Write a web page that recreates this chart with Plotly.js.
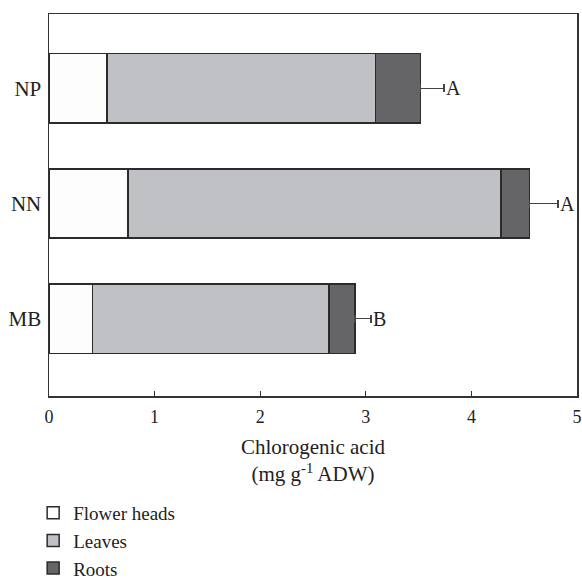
<!DOCTYPE html>
<html>
<head>
<meta charset="utf-8">
<script src="https://cdn.plot.ly/plotly-3.0.1.min.js"></script>
<style>html,body{margin:0;padding:0;background:#fff;}#chart{width:582px;height:581px;}</style>
</head>
<body>
<div id="chart"></div>
<script>
const categories = ['MB', 'NN', 'NP'];
const flowerHeads = [0.41, 0.75, 0.55];
const leaves = [2.24, 3.53, 2.54];
const roots = [0.25, 0.27, 0.43];
const errorPlus = [0.15, 0.27, 0.22];
const letters = ['B', 'A', 'A'];
const xTicks = [0, 1, 2, 3, 4, 5];

const FONT = 'Liberation Serif, Times New Roman, serif';
const outline = {color: '#2b2b2b', width: 1.5};

const totals = categories.map((c, i) => flowerHeads[i] + leaves[i] + roots[i]);

const traces = [
  {type: 'bar', orientation: 'h', name: 'Flower heads', y: categories, x: flowerHeads,
   marker: {color: '#fdfdfd', line: outline}},
  {type: 'bar', orientation: 'h', name: 'Leaves', y: categories, x: leaves,
   marker: {color: '#c0c1c4', line: outline}},
  {type: 'bar', orientation: 'h', name: 'Roots', y: categories, x: roots,
   marker: {color: '#656567', line: outline},
   error_x: {type: 'data', symmetric: false, array: errorPlus, arrayminus: [0, 0, 0],
             color: '#444', thickness: 1.5, width: 4}}
];

const annotations = categories.map((c, i) => ({
  x: totals[i] + errorPlus[i], y: c, xref: 'x', yref: 'y',
  text: letters[i], showarrow: false, xanchor: 'left', yanchor: 'middle', xshift: 0,
  font: {family: FONT, size: 20, color: '#222'}
}));

const layout = {
  width: 582, height: 581,
  margin: {l: 49, r: 5, t: 14, b: 185},
  paper_bgcolor: '#fff', plot_bgcolor: '#fff',
  barmode: 'stack', bargap: 0.4,
  showlegend: true,
  font: {family: FONT, size: 20, color: '#222'},
  xaxis: {
    automargin: false,
    range: [0, 5], tickvals: xTicks, ticktext: xTicks.map(String),
    ticks: 'inside', ticklen: 5, tickwidth: 1.2, tickcolor: '#333',
    showline: true, linecolor: '#333', linewidth: 1.5, mirror: true,
    showgrid: false, zeroline: false, ticklabelstandoff: 4,
    tickfont: {family: FONT, size: 18, color: '#222'},
    title: {text: 'Chlorogenic acid<br>(mg g<sup>-1</sup> ADW)', standoff: 13,
            font: {family: FONT, size: 21, color: '#222'}}
  },
  yaxis: {
    automargin: false,
    type: 'category', categoryorder: 'array', categoryarray: categories,
    range: [-0.671, 2.645],
    ticks: '', showline: true, linecolor: '#333', linewidth: 1.5, mirror: true,
    showgrid: false, zeroline: false, ticklabelstandoff: 2,
    tickfont: {family: FONT, size: 21, color: '#222'}
  },
  legend: {
    orientation: 'v', xref: 'paper', x: -0.03, xanchor: 'left',
    yref: 'container', y: 0.15, yanchor: 'top',
    traceorder: 'normal', bgcolor: 'rgba(0,0,0,0)',
    font: {family: FONT, size: 19, color: '#222'}
  },
  annotations: annotations
};

Plotly.newPlot('chart', traces, layout, {displayModeBar: false, staticPlot: true});
</script>
</body>
</html>
